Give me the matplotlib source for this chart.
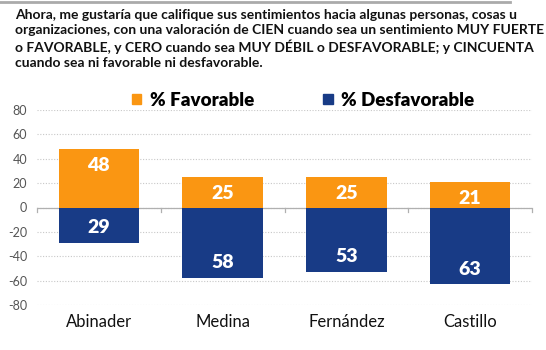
import matplotlib.pyplot as plt
from matplotlib.lines import Line2D
from matplotlib.patches import Patch
import numpy as np

# data
candidatos = ['Abinader', 'Medina', 'Fernández', 'Castillo']
favorable = [48, 25, 25, 21]
desfavorable = [29, 58, 53, 63]
yticks = [80, 60, 40, 20, 0, -20, -40, -60, -80]

naranja = '#FA9612'
azul = '#183B86'

plt.rcParams['font.family'] = ['Lato', 'DejaVu Sans']

fig = plt.figure(figsize=(5.46, 3.5), dpi=100)
ax = fig.add_axes([37/546, 1-305/350, 495/546, 195/350])

x = np.arange(len(candidatos))
neg = [-v for v in desfavorable]
b1 = ax.bar(x, favorable, width=0.65, color=naranja, zorder=3)
b2 = ax.bar(x, neg, width=0.65, color=azul, zorder=3)

for rect, v in zip(b1, favorable):
    ax.annotate(str(v), (rect.get_x() + rect.get_width()/2, v), xytext=(0, -12),
                textcoords='offset points', ha='center', va='center',
                color='white', fontsize=14, fontweight='heavy', zorder=4)
for rect, v in zip(b2, desfavorable):
    ax.annotate(str(v), (rect.get_x() + rect.get_width()/2, -v), xytext=(0, 11),
                textcoords='offset points', ha='center', va='center',
                color='white', fontsize=14, fontweight='heavy', zorder=4)

ax.set_xlim(-0.5, len(candidatos) - 0.5)
ax.set_ylim(-80, 80)
ax.set_yticks(yticks)
ax.set_yticklabels([str(t) for t in yticks], color='#555555', fontsize=9)
ax.yaxis.grid(True, linestyle=(0, (1, 1.5)), color='#c8c8c8', linewidth=0.8, zorder=0)
ax.tick_params(axis='y', length=0, pad=7)
ax.set_xticks([])
for s in ax.spines.values():
    s.set_visible(False)
ax.axhline(0, color='#b0b0b0', linewidth=0.9, zorder=2)
for b in np.arange(-0.5, len(candidatos), 1.0):
    ax.plot([b, b], [0, -4], color='#b0b0b0', linewidth=0.9, zorder=2, clip_on=False)

for xi, name in zip(x, candidatos):
    ax.text(xi, -94, name, ha='center', va='center', fontsize=12, color='#111111')

# titulo
titulo = ('Ahora, me gustaría que califique sus sentimientos hacia algunas personas, cosas u\n'
          'organizaciones, con una valoración de CIEN cuando sea un sentimiento MUY FUERTE\n'
          'o FAVORABLE, y CERO cuando sea MUY DÉBIL o DESFAVORABLE; y CINCUENTA\n'
          'cuando sea ni favorable ni desfavorable.')
fig.text(15/546, 1-9/350, titulo, ha='left', va='top', fontsize=10, fontweight='bold',
         color='#111111', linespacing=1.3)
fig.add_artist(Line2D([0, 510/546], [1-2/350, 1-2/350], color='#aaaaaa', linewidth=2))

handles = [Patch(color=naranja), Patch(color=azul)]
fig.legend(handles, ['% Favorable', '% Desfavorable'], loc='center', ncol=2,
           bbox_to_anchor=(303/546, 1-100/350), frameon=False, handlelength=0.5,
           handleheight=0.5, handletextpad=0.45, columnspacing=3.7,
           prop={'size': 13.5, 'weight': 'heavy'})

fig.savefig('out.png', dpi=100)
